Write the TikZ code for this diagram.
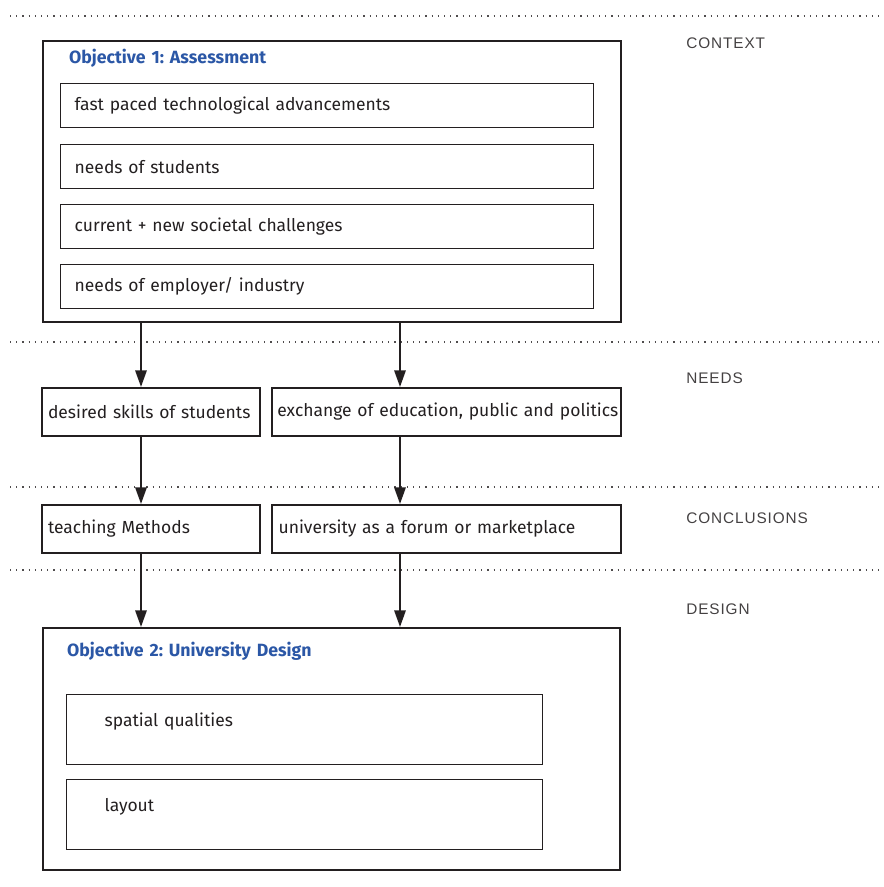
\documentclass[tikz,border=0pt]{standalone}
\usepackage{fontspec}
\setmainfont{Fira Sans}
\newfontfamily\stagefont[LetterSpace=6]{Liberation Sans}
\usetikzlibrary{arrows.meta}
\definecolor{ink}{HTML}{231F20}
\definecolor{objblue}{HTML}{2B57A6}
\frenchspacing
\tikzset{
  every node/.style={text=ink, font=\fontsize{13.1}{15}\selectfont},
  objbox/.style={draw=ink, line width=1.5pt, anchor=north west, inner ysep=0pt, align=left},
  objtitle/.style={font=\fontsize{13.3}{15}\selectfont\bfseries, text=objblue},
  itembox/.style={draw=ink, line width=1.1pt, anchor=north west, align=left,
    minimum width=399.75pt, minimum height=33pt, inner xsep=10.5pt, text width=378.75pt},
  stepbox/.style={draw=ink, line width=1.5pt, anchor=north west, align=left,
    minimum height=36pt, inner ysep=0pt},
  spacebox/.style={draw=ink, line width=1.1pt, anchor=north west, align=left, inner ysep=0pt,
    inner xsep=28.5pt, text width=300pt, text height=24pt, text depth=28.5pt},
  stage/.style={anchor=west, inner xsep=0pt, font=\stagefont\fontsize{11.5}{14}\selectfont, text=ink!85},
  sep/.style={draw=ink!80, line width=1pt, dash pattern=on 0.9pt off 3.75pt},
  flow/.style={draw=ink, line width=1.6pt, -{Triangle[length=12.5pt,width=8.5pt]}}
}
\begin{document}
\begin{tikzpicture}[x=0.75pt,y=-0.75pt]
\useasboundingbox (0,0) rectangle (883,887);
\draw[sep] (10,16) -- (883,16);
\draw[sep] (10,342) -- (883,342);
\draw[sep] (10,487) -- (883,487);
\draw[sep] (10,570) -- (883,570);
\node[stage] (context) at (686,43) {CONTEXT};
\node[stage] (needs) at (686,378) {NEEDS};
\node[stage] (conclusions) at (686,518) {CONCLUSIONS};
\node[stage] (design) at (686,609) {DESIGN};
\node[objbox, objtitle, inner xsep=19.5pt, text width=394.5pt, text height=17.25pt, text depth=193.5pt] (assess) at (42,40) {Objective 1: Assessment};
\node[itembox] (tech) at (60,83) {fast paced technological advancements};
\node[itembox] (students) at (60,144) {needs of students};
\node[itembox] (society) at (60,204) {current + new societal challenges};
\node[itembox] (employer) at (60,264) {needs of employer/ industry};
\node[stepbox, minimum width=163.5pt, inner xsep=4.5pt, text width=154.5pt] (skills) at (41,387) {\mbox{desired skills of students}};
\node[stepbox, minimum width=261.75pt, inner xsep=4pt, text width=253.75pt] (exchange) at (271,387) {\mbox{exchange of education, public and politics}};
\node[stepbox, minimum width=163.5pt, inner xsep=4.5pt, text width=154.5pt] (methods) at (41,504) {teaching Methods};
\node[stepbox, minimum width=261.75pt, inner xsep=5pt, text width=251.75pt] (forum) at (271,504) {university as a forum or marketplace};
\node[objbox, objtitle, inner xsep=18pt, text width=396.75pt, text height=21pt, text depth=160.5pt] (unidesign) at (42,627) {Objective 2: University Design};
\node[spacebox] (spatial) at (66,694) {spatial qualities};
\node[spacebox] (layout) at (66,779) {layout};
\coordinate (colA) at (141,0);
\coordinate (colB) at (400,0);
\draw[flow] (assess.south -| colA) -- (skills.north -| colA);
\draw[flow] (assess.south -| colB) -- (exchange.north -| colB);
\draw[flow] (skills.south -| colA) -- (methods.north -| colA);
\draw[flow] (exchange.south -| colB) -- (forum.north -| colB);
\draw[flow] (methods.south -| colA) -- (unidesign.north -| colA);
\draw[flow] (forum.south -| colB) -- (unidesign.north -| colB);
\end{tikzpicture}
\end{document}
